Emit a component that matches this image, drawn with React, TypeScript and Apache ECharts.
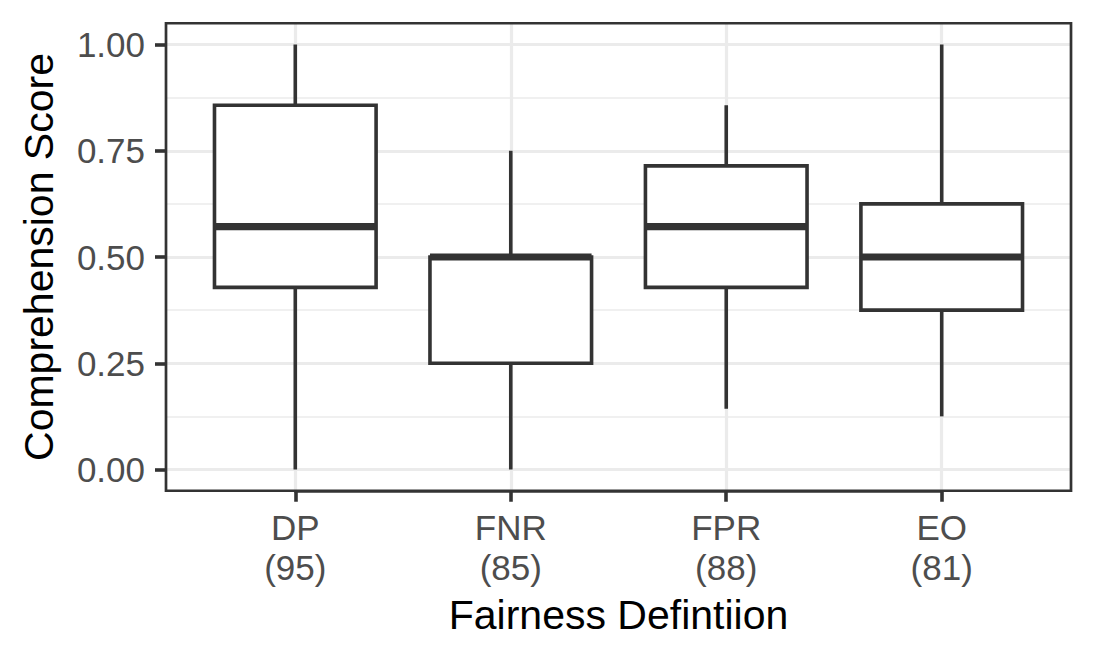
import React, { useEffect, useRef } from "react";
import * as echarts from "echarts";

const categories = ["DP", "FNR", "FPR", "EO"];
const counts = [95, 85, 88, 81];
const mins = [0, 0, 0.1429, 0.125];
const q1s = [0.4286, 0.25, 0.4286, 0.375];
const medians = [0.5714, 0.5, 0.5714, 0.5];
const q3s = [0.8571, 0.5, 0.7143, 0.625];
const maxs = [1, 0.75, 0.8571, 1];
const yTicks = [0, 0.25, 0.5, 0.75, 1];

const FONT = "'Liberation Sans', Arial, sans-serif";
const DARK = "#333333";
const GRID = "#EBEBEB";

export default function App() {
  const ref = useRef<HTMLDivElement>(null);
  useEffect(() => {
    if (!ref.current) return;
    const chart = echarts.init(ref.current, null, { renderer: "svg" });
    const data = categories.map((_, i) => [i, mins[i], q1s[i], medians[i], q3s[i], maxs[i]]);
    const panelTop = 23.25;
    const panelH = 467.5;
    const panelLeft = 166;
    const panelW = 905;
    const unit = panelW / 4.2;
    chart.setOption({
      animation: false,
      textStyle: { fontFamily: FONT },
      grid: [
        {
          left: panelLeft, top: panelTop, width: panelW, height: panelH,
          show: true, borderColor: DARK, borderWidth: 2.7, backgroundColor: "transparent",
          z: 10, outerBoundsMode: "none", containLabel: false,
        },
        {
          left: panelLeft, top: 44.5, width: panelW, height: 425,
          outerBoundsMode: "none", containLabel: false,
        },
        {
          left: panelLeft + 0.6 * unit, top: panelTop, width: 3 * unit, height: panelH,
          outerBoundsMode: "none", containLabel: false,
        },
      ],
      xAxis: [
        { gridIndex: 0, type: "value", show: false, min: 0, max: 1 },
        { gridIndex: 1, type: "value", show: false, min: 0, max: 1 },
        {
          gridIndex: 2, type: "value", min: 0, max: 3, interval: 1, position: "bottom",
          axisLine: { show: true, onZero: false, lineStyle: { color: DARK, width: 2.7 } },
          axisTick: { show: true, inside: false, length: 11, lineStyle: { color: DARK, width: 3.6 } },
          axisLabel: {
            show: true, margin: 17, color: "#4D4D4D", fontSize: 35, lineHeight: 40,
            fontFamily: FONT, showMinLabel: true, showMaxLabel: true,
            formatter: (v: number) => {
              const i = Math.round(v);
              return categories[i] !== undefined ? `${categories[i]}\n(${counts[i]})` : "";
            },
          },
          splitLine: { show: true, showMinLine: true, showMaxLine: true, lineStyle: { color: GRID, width: 3.2 } },
          name: "Fairness Defintiion",
          nameLocation: "middle",
          nameGap: 104,
          nameTextStyle: { fontSize: 41, color: "#000000", fontFamily: FONT },
        },
      ],
      yAxis: [
        { gridIndex: 0, type: "value", show: false, min: 0, max: 1 },
        {
          gridIndex: 1, type: "value", min: yTicks[0], max: yTicks[yTicks.length - 1], interval: 0.25,
          axisLine: { show: false, onZero: false },
          axisTick: { show: true, length: 11, lineStyle: { color: DARK, width: 3.6 } },
          axisLabel: {
            show: true, margin: 21, color: "#4D4D4D", fontSize: 35, fontFamily: FONT,
            showMinLabel: true, showMaxLabel: true,
            formatter: (v: number) => v.toFixed(2),
          },
          splitLine: { show: true, lineStyle: { color: GRID, width: 3.2 } },
          minorTick: { show: false, splitNumber: 2 },
          minorSplitLine: { show: true, lineStyle: { color: GRID, width: 1.6 } },
          name: "Comprehension Score",
          nameLocation: "middle",
          nameRotate: 90,
          nameGap: 107,
          nameTextStyle: { fontSize: 41, color: "#000000", fontFamily: FONT },
        },
        { gridIndex: 2, type: "value", show: false, min: -0.05, max: 1.05 },
      ],
      series: [
        {
          type: "custom",
          xAxisIndex: 2,
          yAxisIndex: 2,
          data,
          z: 5,
          renderItem: (params: any, api: any) => {
            const x = api.value(0);
            const vMin = api.value(1);
            const vQ1 = api.value(2);
            const vMed = api.value(3);
            const vQ3 = api.value(4);
            const vMax = api.value(5);
            const bw = api.size([1, 0])[0] * 0.75;
            const hw = bw / 2;
            const pMin = api.coord([x, vMin]);
            const pQ1 = api.coord([x, vQ1]);
            const pMed = api.coord([x, vMed]);
            const pQ3 = api.coord([x, vQ3]);
            const pMax = api.coord([x, vMax]);
            const line = { stroke: DARK, lineWidth: 3.6 };
            return {
              type: "group",
              children: [
                { type: "line", shape: { x1: pMax[0], y1: pMax[1], x2: pQ3[0], y2: pQ3[1] }, style: line },
                { type: "line", shape: { x1: pMin[0], y1: pMin[1], x2: pQ1[0], y2: pQ1[1] }, style: line },
                {
                  type: "rect",
                  shape: { x: pQ3[0] - hw, y: pQ3[1], width: bw, height: pQ1[1] - pQ3[1] },
                  style: { fill: "#FFFFFF", stroke: DARK, lineWidth: 3.6 },
                },
                {
                  type: "line",
                  shape: { x1: pMed[0] - hw, y1: pMed[1], x2: pMed[0] + hw, y2: pMed[1] },
                  style: { stroke: DARK, lineWidth: 7.2 },
                },
              ],
            };
          },
        },
      ],
    });
    return () => chart.dispose();
  }, []);
  return (
    <div
      ref={ref}
      style={{ position: "fixed", left: 0, top: 0, width: 1095, height: 660, background: "#FFFFFF" }}
    />
  );
}
